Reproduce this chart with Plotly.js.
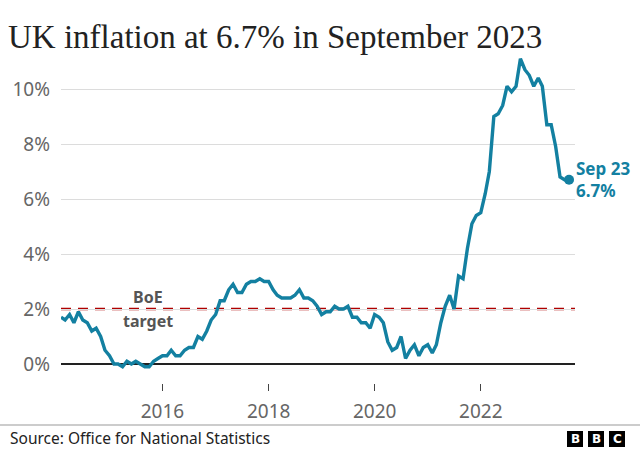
<!DOCTYPE html>
<html>
<head>
<meta charset="utf-8">
<script src="https://cdn.plot.ly/plotly-3.0.1.min.js"></script>
<style>
html,body{margin:0;padding:0;background:#fff;}
#chart{width:640px;height:450px;}
</style>
</head>
<body>
<div id="chart"></div>
<script>
// UK CPI annual inflation rate (%), monthly, Feb 2014 - Sep 2023
const firstYear = 2014;
const firstMonth = 2; // February
const cpi2014 = [1.7,1.6,1.8,1.5,1.9,1.6,1.5,1.2,1.3,1.0,0.5];
const cpi2015 = [0.3,0.0,0.0,-0.1,0.1,0.0,0.1,0.0,-0.1,-0.1,0.1,0.2];
const cpi2016 = [0.3,0.3,0.5,0.3,0.3,0.5,0.6,0.6,1.0,0.9,1.2,1.6];
const cpi2017 = [1.8,2.3,2.3,2.7,2.9,2.6,2.6,2.9,3.0,3.0,3.1,3.0];
const cpi2018 = [3.0,2.7,2.5,2.4,2.4,2.4,2.5,2.7,2.4,2.4,2.3,2.1];
const cpi2019 = [1.8,1.9,1.9,2.1,2.0,2.0,2.1,1.7,1.7,1.5,1.5,1.3];
const cpi2020 = [1.8,1.7,1.5,0.8,0.5,0.6,1.0,0.2,0.5,0.7,0.3,0.6];
const cpi2021 = [0.7,0.4,0.7,1.5,2.1,2.5,2.0,3.2,3.1,4.2,5.1,5.4];
const cpi2022 = [5.5,6.2,7.0,9.0,9.1,9.4,10.1,9.9,10.1,11.1,10.7,10.5];
const cpi2023 = [10.1,10.4,10.1,8.7,8.7,7.9,6.8,6.7,6.7];

const boeTarget = 2;
const xTickVals = ['2016-01-01','2018-01-01','2020-01-01','2022-01-01'];
const xTickText = ['2016','2018','2020','2022'];
const yTickVals = [0,2,4,6,8,10];
const yTickText = ['0%','2%','4%','6%','8%','10%'];
const monthNames = ['Jan','Feb','Mar','Apr','May','Jun','Jul','Aug','Sep','Oct','Nov','Dec'];

const cpi = [].concat(cpi2014,cpi2015,cpi2016,cpi2017,cpi2018,cpi2019,cpi2020,cpi2021,cpi2022,cpi2023);
const dates = cpi.map((v,i)=>{
  const m0 = firstMonth - 1 + i;
  const y = firstYear + Math.floor(m0/12);
  const m = (m0 % 12) + 1;
  return y + '-' + String(m).padStart(2,'0') + '-01';
});
const lastIdx = cpi.length - 1;
const lastDate = dates[lastIdx];
const lastVal = cpi[lastIdx];
const lastLabel = monthNames[parseInt(lastDate.slice(5,7))-1] + ' ' + lastDate.slice(2,4);

const TEAL = '#1380a1';
const W = 640, H = 450;
const L = 61, R = 65, T = 55, B = 67;
const pw = W - L - R, ph = H - T - B;
const px = x => (x - L) / pw;
const py = y => (H - B - y) / ph;
const zeroPx = 364, pxPerUnit = 27.5;

const traces = [
  {x: dates, y: cpi, type: 'scatter', mode: 'lines',
   line: {color: TEAL, width: 3.4, shape: 'linear'}, hoverinfo: 'skip'},
  {x: [lastDate], y: [lastVal], type: 'scatter', mode: 'markers',
   marker: {color: TEAL, size: 10}, cliponaxis: false, hoverinfo: 'skip'}
];

const sans = 'Noto Sans, Open Sans, sans-serif';
const shapes = [
  {type: 'line', xref: 'paper', yref: 'y', x0: 0, x1: 1, y0: boeTarget, y1: boeTarget,
   line: {color: '#b00000', width: 2.5, dash: '10px,7px'}, layer: 'between'},
  {type: 'line', xref: 'paper', yref: 'paper', x0: px(0), x1: px(640), y0: py(425), y1: py(425),
   line: {color: '#999', width: 1}}
];
const annotations = [
  {xref: 'paper', yref: 'y', x: px(148), y: boeTarget, text: '<b>BoE</b>',
   showarrow: false, xanchor: 'center', yanchor: 'bottom', align: 'center', borderpad: 0,
   font: {family: sans, size: 16, color: '#555'}},
  {xref: 'paper', yref: 'y', x: px(148), y: boeTarget, text: '<b>target</b>',
   showarrow: false, xanchor: 'center', yanchor: 'top', align: 'center', borderpad: 0,
   font: {family: sans, size: 16, color: '#555'}},
  {xref: 'x', yref: 'y', x: lastDate, y: lastVal, text: '<b>' + lastLabel + '</b><br><b>' + lastVal.toFixed(1) + '%</b>',
   showarrow: false, xanchor: 'left', yanchor: 'middle', align: 'left', xshift: 5,
   font: {family: sans, size: 17, color: TEAL}},
  {xref: 'paper', yref: 'paper', x: px(8), y: py(438), text: 'Source: Office for National Statistics',
   showarrow: false, xanchor: 'left', yanchor: 'middle',
   font: {family: sans, size: 15.5, color: '#222'}}
];
['B','B','C'].forEach((ch,i)=>{
  const x0 = 567 + i*21;
  shapes.push({type: 'rect', xref: 'paper', yref: 'paper', x0: px(x0), x1: px(x0+16), y0: py(447), y1: py(431),
    fillcolor: '#000', line: {width: 0}});
  annotations.push({xref: 'paper', yref: 'paper', x: px(x0+8), y: py(439), text: '<b>' + ch + '</b>',
    showarrow: false, xanchor: 'center', yanchor: 'middle',
    font: {family: 'DejaVu Sans, sans-serif', size: 12, color: '#fff'}});
});

const layout = {
  width: W, height: H,
  margin: {l: L, r: R, t: T, b: B, pad: 0},
  paper_bgcolor: '#fff', plot_bgcolor: '#fff',
  showlegend: false,
  title: {text: 'UK inflation at 6.7% in September 2023', x: 8/W, xanchor: 'left', xref: 'container',
    y: 1 - 36/H, yanchor: 'middle', yref: 'container',
    font: {family: 'Liberation Serif, serif', size: 33, color: '#222'}},
  xaxis: {type: 'date', range: ['2014-02-01','2023-10-12'], tickvals: xTickVals, ticktext: xTickText,
    showgrid: false, zeroline: false, showline: false, ticks: 'outside', ticklen: 7, tickwidth: 1,
    tickcolor: '#444', tickfont: {family: sans, size: 19, color: '#666'}, ticklabelstandoff: 4, fixedrange: true},
  yaxis: {range: [(zeroPx - (H - B)) / pxPerUnit, (zeroPx - T) / pxPerUnit],
    tickmode: 'array', tickvals: yTickVals, ticktext: yTickText,
    showgrid: true, gridcolor: '#dcdcdc', gridwidth: 1, zeroline: true, zerolinecolor: '#222', zerolinewidth: 2,
    showline: false, ticks: '', tickfont: {family: sans, size: 19, color: '#666'}, ticklabelstandoff: 10, fixedrange: true},
  shapes: shapes,
  annotations: annotations
};

Plotly.newPlot('chart', traces, layout, {displayModeBar: false, staticPlot: true});
</script>
</body>
</html>
